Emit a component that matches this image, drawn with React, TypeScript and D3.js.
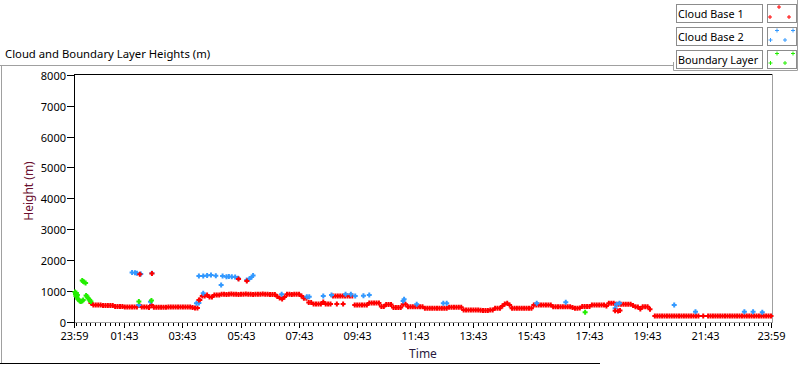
import React, { useEffect, useRef } from 'react';
import * as d3 from 'd3';

// times are minutes after 23:59 of the previous day, heights in metres
const heightTicks = [0, 1000, 2000, 3000, 4000, 5000, 6000, 7000, 8000];
const timeTickMinutes = [0, 104, 224, 344, 464, 584, 704, 824, 944, 1064, 1184, 1304, 1440];
const timeTickLabels = ['23:59', '01:43', '03:43', '05:43', '07:43', '09:43', '11:43', '13:43', '15:43', '17:43', '19:43', '21:43', '23:59'];

const seriesNames = ['Cloud Base 1', 'Cloud Base 2', 'Boundary Layer'];
const seriesColors = ['#ff0000', '#3399ff', '#22ee00'];

// cloud base 1, one reading every 5 minutes
const cloudBase1Step = 5;
const cloudBase1 = [
  null, null, null, null, null, null, null, 600, 535, 535, 535, 535,
  520, 520, 520, 520, 520, 490, 490, 490, 490, 470, 470, 470,
  470, 470, 470, 535, 470, 470, 470, 455, 535, 460, 460, 460,
  460, 460, 460, 470, 470, 470, 470, 470, 470, 470, 470, 470,
  470, 455, 440, 440, 700, 830, 830, 860, 795, 795, 860, 860,
  860, 885, 885, 880, 885, 890, 885, 885, 880, 885, 885, 890,
  885, 885, 880, 885, 885, 885, 890, 885, 885, 880, 875, 875,
  810, 765, 730, 795, 885, 885, 880, 885, 885, 885, 830, 755,
  755, 615, 615, 570, 570, 570, 570, 635, 570, 570, 570, 830,
  830, 830, 830, 830, 830, 830, 830, 830, 535, 535, 535, 535,
  535, 535, 600, 600, 600, 600, 600, 490, 490, 550, 550, 550,
  455, 455, 455, 455, 560, 560, 480, 480, 480, 480, 480, 480,
  480, 430, 430, 430, 430, 430, 430, 430, 430, 430, 430, 460,
  460, 460, 460, 460, 460, 375, 375, 375, 375, 375, 370, 370,
  365, 360, 355, 360, 370, 375, 430, 430, 430, 505, 570, 590,
  535, 430, 430, 430, 430, 430, 430, 430, 430, 430, 535, 535,
  535, 535, 535, 535, 535, 535, 480, 480, 480, 480, 480, 480,
  480, 480, 455, 430, 430, 440, 490, 490, 490, 490, 535, 535,
  535, 535, 535, 535, 505, 590, 590, 590, 560, 560, 560, 560,
  560, 560, 560, 520, 480, 470, 405, 480, 480, 480, 395, null,
  180, 180, 180, 180, 180, 180, 180, 180, 180, 180, 180, 180,
  180, 180, 180, 180, 180, 180, 180, null, 180, null, 180, 180,
  180, 180, 180, 180, 180, 180, 180, 180, 180, 180, 180, 180,
  180, 180, 180, 180, 180, 180, 180, 180, 180, 180, 180, 180,
  180,
];
const cloudBase1ExtraMinutes = [136, 161, 258, 340, 357, 543, 556, 1118, 1124, 1128];
const cloudBase1ExtraHeights = [1532, 1558, 698, 1379, 1314, 568, 568, 350, 341, 357];

const cloudBase2Minutes = [120, 126, 130, 138, 161, 134, 158, 253, 258, 267, 258, 267, 275, 283, 293, 304, 307, 315, 320, 326, 333, 339, 357, 362, 367, 370,
  429, 481, 486, 515, 532, 561, 572, 581, 598, 610, 680, 682, 708, 763, 770, 956, 1016, 1118, 1121, 1127, 1240, 1284, 1385, 1403, 1422];
const cloudBase2Heights = [1590, 1584, 1567, 1541, 1564, 535, 643, 591, 600, 915, 1476, 1476, 1493, 1509, 1486, 1184, 1476, 1454, 1460, 1454, 1444, 1402, 1347, 1379, 1444, 1493,
  883, 805, 805, 827, 860, 883, 883, 827, 837, 860, 665, 720, 558, 591, 591, 591, 623, 428, 558, 591, 535, 318, 318, 318, 298];

const boundaryMinutes = [2, 3, 4, 5, 6, 7, 8, 10, 12, 14, 17, 19, 17, 19, 21, 24, 25, 27, 29, 31, 33, 35, 134, 160, 1056];
const boundaryHeights = [957, 892, 827, 925, 795, 860, 730, 698, 665, 649, 665, 698, 1330, 1298, 1282, 1249, 844, 811, 763, 714, 681, 649, 649, 681, 298];

const plus = (x: number, y: number, r: number) => `M${x - r},${y}H${x + r}M${x},${y - r}V${y + r}`;

export const Chart = ({ width = 800, height = 365 }) => {
  const chart = useRef<SVGSVGElement>(null);

  useEffect(() => {
    const svg = d3.select(chart.current);
    svg.html('');
    svg.attr('width', width).attr('height', height);

    const font = '"Noto Sans", "Open Sans", sans-serif';
    const left = 74, right = 771, top = 75, bottom = 321.5;

    const x = d3.scaleLinear().domain([0, 1440]).range([left, right]);
    const y = d3.scaleLinear().domain([0, 8000]).range([bottom, top]);

    // outer frame
    svg.append('line').attr('x1', 0).attr('x2', 673).attr('y1', 65.5).attr('y2', 65.5).attr('stroke', '#a0a0a0');
    svg.append('line').attr('x1', 1.5).attr('x2', 1.5).attr('y1', 65).attr('y2', 363).attr('stroke', '#a0a0a0');
    svg.append('line').attr('x1', 0).attr('x2', 600).attr('y1', 363.5).attr('y2', 363.5).attr('stroke', '#000');

    svg.append('text').attr('x', 5).attr('y', 58).attr('font-family', font).attr('font-size', 11.3)
      .text('Cloud and Boundary Layer Heights (m)');

    // legend
    const lg = svg.append('g');
    lg.append('path').attr('d', 'M673.5,62V70.5H797.5V0').attr('fill', 'none').attr('stroke', '#a0a0a0');
    seriesNames.forEach((name, i) => {
      const ty = 4 + i * 23;
      lg.append('rect').attr('x', 676.5).attr('y', ty + 0.5).attr('width', 86).attr('height', 18)
        .attr('fill', '#fff').attr('stroke', '#8c8c8c');
      lg.append('text').attr('x', 678).attr('y', ty + 14).attr('font-family', font).attr('font-size', 10.8).text(name);
      lg.append('rect').attr('x', 767.5).attr('y', ty + 0.5).attr('width', 29).attr('height', 18)
        .attr('fill', '#fff').attr('stroke', '#8c8c8c');
      const pts = i === 0
        ? [[779, ty + 3], [770, ty + 13], [789, ty + 13]]
        : [[777, ty + 3.5], [793, ty + 3.5], [770.5, ty + 13], [785, ty + 13]];
      lg.append('path').attr('d', pts.map(p => plus(p[0], p[1], 2)).join(''))
        .attr('stroke', seriesColors[i]).attr('stroke-width', 1).attr('fill', 'none');
    });

    // plot frame
    svg.append('rect').attr('x', left).attr('y', 74).attr('width', 698).attr('height', 248).attr('fill', '#fff');
    svg.append('line').attr('x1', left).attr('x2', 772).attr('y1', 74.5).attr('y2', 74.5).attr('stroke', '#000');
    svg.append('line').attr('x1', 772.5).attr('x2', 772.5).attr('y1', 74).attr('y2', 323).attr('stroke', '#a0a0a0');
    svg.append('line').attr('x1', left).attr('x2', 773).attr('y1', 322.5).attr('y2', 322.5).attr('stroke', '#a0a0a0');
    svg.append('line').attr('x1', left + 0.5).attr('x2', left + 0.5).attr('y1', 74).attr('y2', 323).attr('stroke', '#000');

    // y axis
    const ya = svg.append('g');
    heightTicks.forEach(v => {
      const py = Math.round(y(v)) + 0.5;
      ya.append('line').attr('x1', 67).attr('x2', left).attr('y1', py).attr('y2', py).attr('stroke', '#000');
      ya.append('text').attr('x', 66).attr('y', py + 4).attr('text-anchor', 'end')
        .attr('font-family', font).attr('font-size', 11).text(v);
    });
    svg.append('text').attr('transform', 'translate(33,191) rotate(-90)').attr('text-anchor', 'middle')
      .attr('font-family', font).attr('font-size', 12).attr('fill', '#6b1030').text('Height (m)');

    // x axis
    const xa = svg.append('g');
    d3.range(104 % 10, 1440, 10).filter(m => !timeTickMinutes.includes(m)).forEach(m => {
      const px = Math.round(x(m)) + 0.5;
      xa.append('line').attr('x1', px).attr('x2', px).attr('y1', 323).attr('y2', 326).attr('stroke', '#000');
    });
    timeTickMinutes.forEach((m, i) => {
      const px = Math.round(x(m)) + 0.5;
      xa.append('line').attr('x1', px).attr('x2', px).attr('y1', 323).attr('y2', 328).attr('stroke', '#000');
      xa.append('text').attr('x', px).attr('y', 340).attr('text-anchor', 'middle')
        .attr('font-family', font).attr('font-size', 11).text(timeTickLabels[i]);
    });
    svg.append('text').attr('x', 423).attr('y', 358).attr('text-anchor', 'middle')
      .attr('font-family', font).attr('font-size', 12).attr('fill', '#2a1a40').text('Time');

    // markers
    const marks = (pts: [number, number][], color: string) => {
      svg.append('path').attr('d', pts.map(p => plus(x(p[0]), y(p[1]), 2.5)).join(''))
        .attr('stroke', color).attr('stroke-width', 2).attr('fill', 'none');
    };
    const band: [number, number][] = [];
    cloudBase1.forEach((h, i) => { if (h !== null) band.push([i * cloudBase1Step, h]); });
    marks(band, seriesColors[0]);
    marks(cloudBase2Minutes.map((m, i) => [m, cloudBase2Heights[i]]), seriesColors[1]);
    marks(boundaryMinutes.map((m, i) => [m, boundaryHeights[i]]), seriesColors[2]);
    marks(cloudBase1ExtraMinutes.map((m, i) => [m, cloudBase1ExtraHeights[i]]), seriesColors[0]);
  }, [width, height]);

  return <svg ref={chart} style={{ position: 'absolute', left: 0, top: 0 }}></svg>;
};

export default function App() {
  return <Chart />;
}
